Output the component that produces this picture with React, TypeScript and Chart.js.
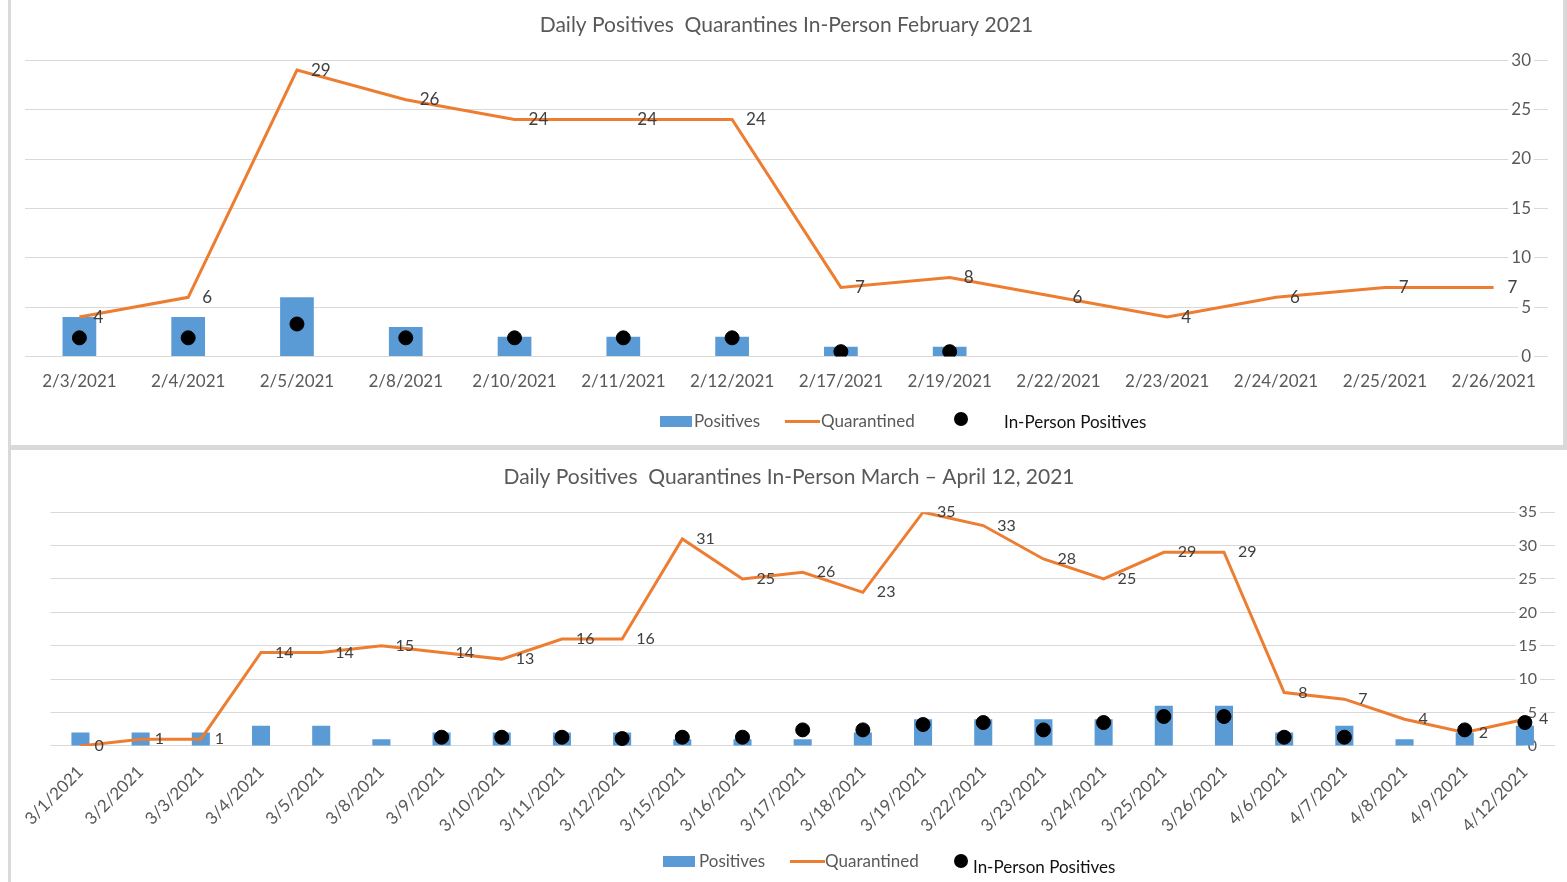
import React, { useEffect, useRef } from 'react';
import { Chart, registerables } from 'chart.js';

Chart.register(...registerables);

const FONT = 'Lato, "Open Sans", sans-serif';

// ---------- February chart data ----------
const febLabels = [
  '2/3/2021', '2/4/2021', '2/5/2021', '2/8/2021', '2/10/2021', '2/11/2021', '2/12/2021',
  '2/17/2021', '2/19/2021', '2/22/2021', '2/23/2021', '2/24/2021', '2/25/2021', '2/26/2021',
];
const febPositives = [4, 4, 6, 3, 2, 2, 2, 1, 1, null, null, null, null, null];
const febQuarantined = [4, 6, 29, 26, 24, 24, 24, 7, 8, 6, 4, 6, 7, 7];
const febInPerson = [1.9, 1.9, 3.3, 1.9, 1.9, 1.9, 1.9, 0.5, 0.5, null, null, null, null, null];
const febTitle = 'Daily Positives  Quarantines In-Person February 2021';

// ---------- March - April chart data ----------
const marLabels = [
  '3/1/2021', '3/2/2021', '3/3/2021', '3/4/2021', '3/5/2021', '3/8/2021', '3/9/2021',
  '3/10/2021', '3/11/2021', '3/12/2021', '3/15/2021', '3/16/2021', '3/17/2021', '3/18/2021',
  '3/19/2021', '3/22/2021', '3/23/2021', '3/24/2021', '3/25/2021', '3/26/2021', '4/6/2021',
  '4/7/2021', '4/8/2021', '4/9/2021', '4/12/2021',
];
const marPositives = [2, 2, 2, 3, 3, 1, 2, 2, 2, 2, 1, 1, 1, 2, 4, 4, 4, 4, 6, 6, 2, 3, 1, 2, 3];
const marQuarantined = [0, 1, 1, 14, 14, 15, 14, 13, 16, 16, 31, 25, 26, 23, 35, 33, 28, 25, 29, 29, 8, 7, 4, 2, 4];
const marInPerson = [
  null, null, null, null, null, null, 1.3, 1.3, 1.3, 1.1, 1.3, 1.3, 2.4, 2.4,
  3.2, 3.5, 2.4, 3.5, 4.4, 4.4, 1.3, 1.3, null, 2.4, 3.5,
];
const marTitle = 'Daily Positives  Quarantines In-Person March \u2013 April 12, 2021';

const legendNames = ['Positives', 'Quarantined', 'In-Person Positives'];

const valueLabelPlugin = {
  id: 'valueLabels',
  afterDatasetsDraw(chart: any, _args: any, opts: any) {
    const { ctx } = chart;
    chart.data.datasets.forEach((ds: any, i: number) => {
      if (!ds.valueLabels) return;
      const meta = chart.getDatasetMeta(i);
      ctx.save();
      ctx.font = `${opts.size}px ${FONT}`;
      ctx.fillStyle = '#404040';
      ctx.textAlign = 'left';
      ctx.textBaseline = 'middle';
      meta.data.forEach((el: any, j: number) => {
        const v = ds.data[j];
        if (v == null) return;
        ctx.fillText(String(v), el.x + opts.dx, el.y + (opts.dy || 0));
      });
      ctx.restore();
    });
  },
};

type ChartProps = {
  labels: string[];
  positives: (number | null)[];
  quarantined: number[];
  inPerson: (number | null)[];
  title: string;
  yMax: number;
  width: number;
  height: number;
  left: number;
  top: number;
  pad: { left: number; right: number; bottom: number };
  leftGap: number;
  titlePad: { top: number; bottom: number };
  tickSize: number;
  tickPad: number;
  yTickSize: number;
  yTickPad: number;
  rotation: number;
  barPct: number;
  valueSize: number;
};

function ComboChart(p: ChartProps) {
  const ref = useRef<HTMLCanvasElement | null>(null);
  useEffect(() => {
    if (!ref.current) return;
    const scales: any = {
      x: {
        offset: true,
        grid: { display: false, drawTicks: false },
        border: { display: false },
        ticks: {
          color: '#595959',
          font: { family: FONT, size: p.tickSize },
          padding: p.tickPad,
          autoSkip: false,
          maxRotation: p.rotation,
          minRotation: p.rotation,
        },
      },
      y: {
        position: 'right',
        min: 0,
        max: p.yMax,
        grid: { color: '#d9d9d9', drawTicks: false, lineWidth: 1 },
        border: { display: false },
        ticks: {
          stepSize: 5,
          mirror: true,
          padding: p.yTickPad,
          color: '#595959',
          font: { family: FONT, size: p.yTickSize },
          showLabelBackdrop: true,
          backdropColor: '#ffffff',
          backdropPadding: { x: 3, y: 1 },
        },
        afterFit: (s: any) => {
          s.width = 0;
        },
      },
    };
    if (p.leftGap > 0) {
      // empty spacer on the left, keeps the title centred on the whole panel
      scales.gap = {
        position: 'left',
        display: true,
        grid: { display: false, drawTicks: false },
        border: { display: false },
        ticks: { display: false },
        afterFit: (s: any) => {
          s.width = p.leftGap;
        },
      };
    }
    const chart = new Chart(ref.current, {
      type: 'bar',
      data: {
        labels: p.labels,
        datasets: [
          {
            type: 'line',
            label: legendNames[2],
            data: p.inPerson,
            showLine: false,
            pointRadius: 7,
            pointHoverRadius: 7,
            pointBackgroundColor: '#000',
            pointBorderColor: '#000',
            borderColor: '#000',
            backgroundColor: '#000',
            yAxisID: 'y',
            order: 0,
          } as any,
          {
            type: 'line',
            label: legendNames[1],
            data: p.quarantined,
            borderColor: '#ed7d31',
            backgroundColor: '#ed7d31',
            borderWidth: 3,
            pointRadius: 0,
            tension: 0,
            yAxisID: 'y',
            order: 1,
            valueLabels: true,
          } as any,
          {
            type: 'bar',
            label: legendNames[0],
            data: p.positives,
            backgroundColor: '#5b9bd5',
            barPercentage: p.barPct,
            categoryPercentage: 1,
            yAxisID: 'y',
            order: 2,
          } as any,
        ],
      },
      options: {
        responsive: false,
        animation: false,
        layout: { padding: { left: p.pad.left, right: p.pad.right, bottom: p.pad.bottom, top: 0 } },
        plugins: {
          legend: { display: false },
          tooltip: { enabled: false },
          title: {
            display: true,
            text: p.title,
            color: '#595959',
            font: { family: FONT, size: 21, weight: 'normal' },
            padding: { top: p.titlePad.top, bottom: p.titlePad.bottom },
          },
          valueLabels: { size: p.valueSize, dx: 14 },
        } as any,
        scales,
      },
      plugins: [valueLabelPlugin as any],
    });
    return () => chart.destroy();
  }, []);
  return (
    <canvas
      ref={ref}
      width={p.width}
      height={p.height}
      style={{ position: 'absolute', left: p.left, top: p.top, width: p.width, height: p.height }}
    />
  );
}

type LegendProps = {
  y: number;
  rectX: number;
  posTextX: number;
  lineX: number;
  quarTextX: number;
  dotX: number;
  dotY: number;
  ipX: number;
  ipY: number;
};

function Legend(l: LegendProps) {
  const txt: React.CSSProperties = {
    position: 'absolute',
    fontFamily: FONT,
    fontSize: 17,
    lineHeight: '20px',
    color: '#595959',
    whiteSpace: 'nowrap',
  };
  return (
    <>
      <div style={{ position: 'absolute', left: l.rectX, top: l.y - 5, width: 32, height: 11, background: '#5b9bd5' }} />
      <div style={{ ...txt, left: l.posTextX, top: l.y - 10 }}>{legendNames[0]}</div>
      <div style={{ position: 'absolute', left: l.lineX, top: l.y - 1, width: 35, height: 3, background: '#ed7d31' }} />
      <div style={{ ...txt, left: l.quarTextX, top: l.y - 10 }}>{legendNames[1]}</div>
      <div style={{ position: 'absolute', left: l.dotX - 7, top: l.dotY - 7, width: 14, height: 14, borderRadius: 7, background: '#000' }} />
      <div style={{ ...txt, left: l.ipX, top: l.ipY - 10, color: '#111' }}>{legendNames[2]}</div>
    </>
  );
}

export default function App() {
  return (
    <div style={{ position: 'absolute', left: 0, top: 0, width: 1567, height: 882, background: '#fff', overflow: 'hidden' }}>
      <div style={{ position: 'absolute', left: 8, top: 0, width: 3, height: 882, background: '#d9d9d9' }} />
      <div style={{ position: 'absolute', left: 1563, top: 0, width: 4, height: 450, background: '#d9d9d9' }} />
      <div style={{ position: 'absolute', left: 8, top: 445, width: 1559, height: 5, background: '#d9d9d9' }} />

      <ComboChart
        labels={febLabels}
        positives={febPositives}
        quarantined={febQuarantined}
        inPerson={febInPerson}
        title={febTitle}
        yMax={30}
        width={1552}
        height={445}
        left={11}
        top={0}
        pad={{ left: 14, right: 15, bottom: 38 }}
        leftGap={0}
        titlePad={{ top: 13, bottom: 22 }}
        tickSize={17}
        tickPad={15}
        yTickSize={17}
        yTickPad={-17}
        rotation={0}
        barPct={0.31}
        valueSize={17}
      />
      <Legend y={421} rectX={660} posTextX={694} lineX={785} quarTextX={821} dotX={961} dotY={419} ipX={1004} ipY={422} />

      <ComboChart
        labels={marLabels}
        positives={marPositives}
        quarantined={marQuarantined}
        inPerson={marInPerson}
        title={marTitle}
        yMax={35}
        width={1556}
        height={432}
        left={11}
        top={450}
        pad={{ left: 12, right: 12, bottom: 30 }}
        leftGap={26}
        titlePad={{ top: 15, bottom: 22 }}
        tickSize={17}
        tickPad={16}
        yTickSize={16}
        yTickPad={-18}
        rotation={45}
        barPct={0.3}
        valueSize={16}
      />
      <Legend y={861} rectX={663} posTextX={699} lineX={790} quarTextX={825} dotX={961} dotY={861} ipX={973} ipY={867} />
    </div>
  );
}
